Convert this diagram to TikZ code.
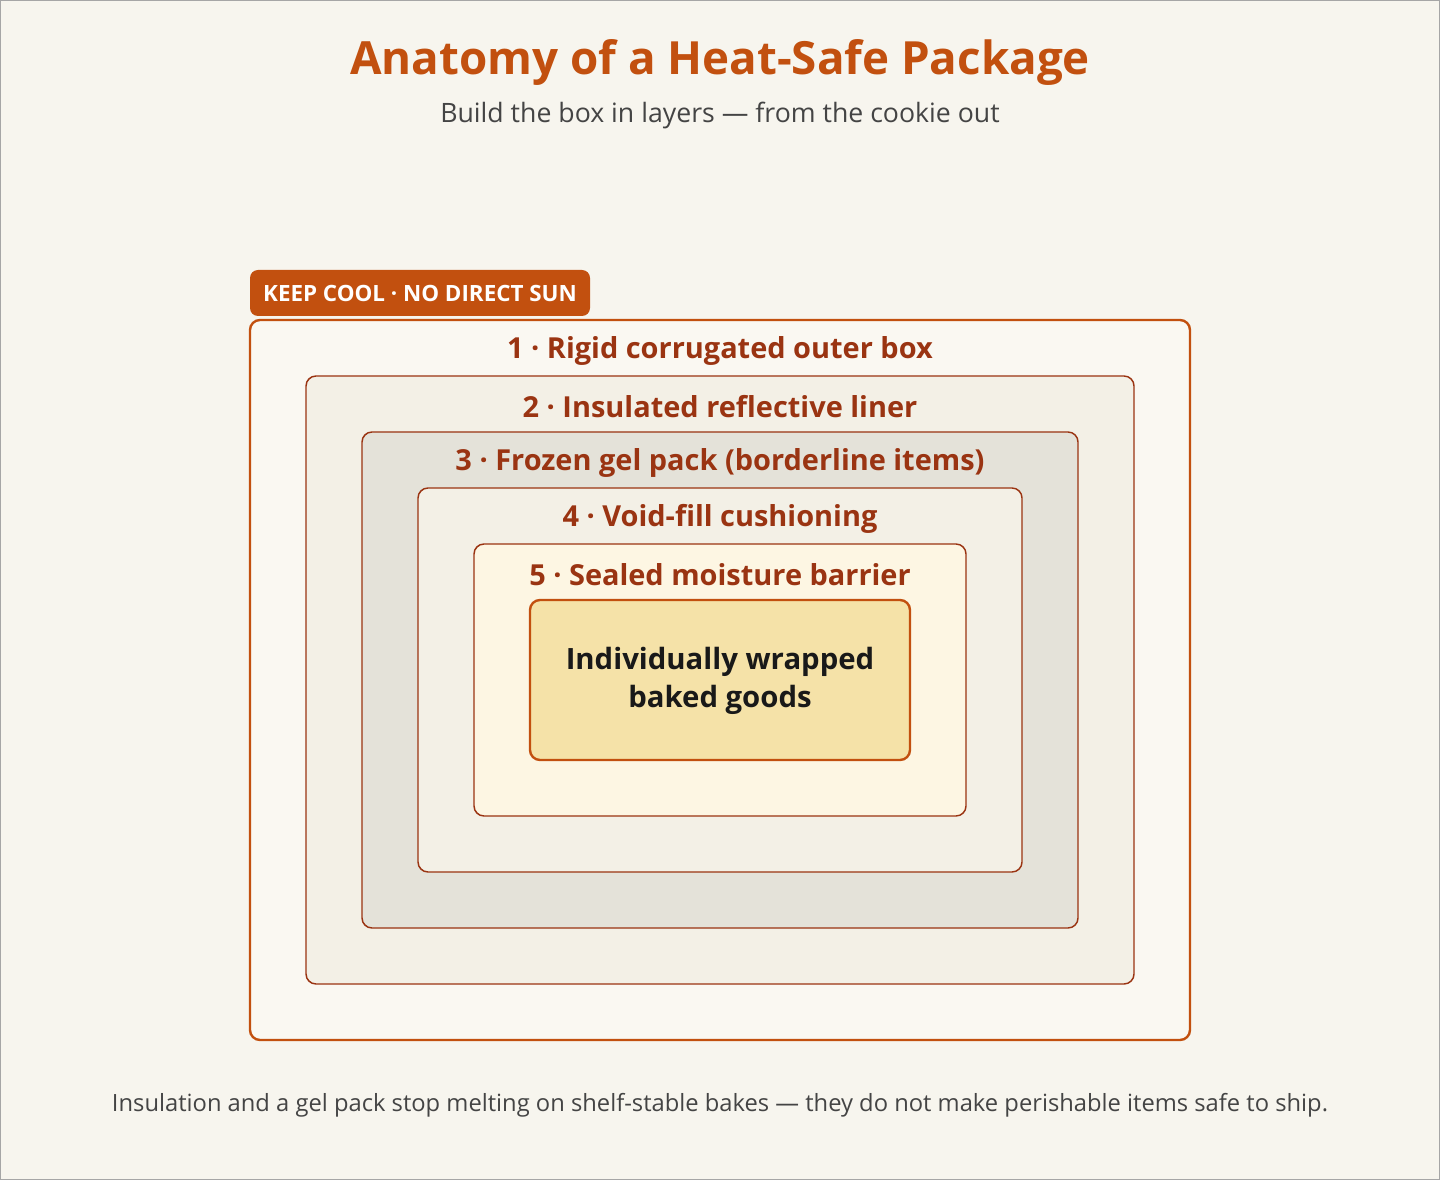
\documentclass[tikz,border=0pt]{standalone}
\usepackage{fontspec}
\setmainfont{Open Sans}
\definecolor{bg}{HTML}{F7F5EE}
\definecolor{orng}{HTML}{C2500F}
\definecolor{dred}{HTML}{9A3412}
\definecolor{fA}{HTML}{FAF8F2}
\definecolor{fB}{HTML}{F3F0E6}
\definecolor{fC}{HTML}{E4E2D9}
\definecolor{fE}{HTML}{FDF6E3}
\definecolor{fF}{HTML}{F5E2A8}
\definecolor{txt}{HTML}{444444}
\begin{document}
\begin{tikzpicture}[x=0.75pt,y=-0.75pt,
  layer/.style={draw=dred,line width=1.1pt,rounded corners=7.5pt},
  lbl/.style={text=dred,font=\bfseries\fontsize{21.7}{26}\selectfont,anchor=center}]
\useasboundingbox (0,0) rectangle (1440,1180);
\fill[bg,draw=gray!70,line width=1.5pt] (0,0) rectangle (1440,1180);
\node (title) at (720,63) {\textcolor{orng}{\bfseries\fontsize{34.3}{40}\selectfont Anatomy of a Heat-Safe Package}};
\node (sub) at (720,116) {\textcolor{txt}{\fontsize{20}{24}\selectfont Build the box in layers — from the cookie out}};
\draw[layer,fill=fA,draw=orng,line width=1.8pt] (250,320) rectangle (1190,1040);
\draw[layer,fill=fB] (306,376) rectangle (1134,984);
\draw[layer,fill=fC] (362,432) rectangle (1078,928);
\draw[layer,fill=fB] (418,488) rectangle (1022,872);
\draw[layer,fill=fE] (474,544) rectangle (966,816);
\draw[layer,fill=fF,draw=orng,line width=1.8pt] (530,600) rectangle (910,760);
\node[lbl] (l1) at (720,351) {1 · Rigid corrugated outer box};
\node[lbl] (l2) at (720,407) {2 · Insulated reflective liner};
\node[lbl] (l3) at (720,463) {3 · Frozen gel pack (borderline items)};
\node[lbl] (l4) at (720,519) {4 · Void-fill cushioning};
\node[lbl] (l5) at (720,575) {5 · Sealed moisture barrier};
\node[align=center,text=black!90,font=\bfseries\fontsize{22}{28.5}\selectfont] (core) at (720,681) {Individually wrapped\\baked goods};
\fill[orng,rounded corners=6pt] (250,270) rectangle (590,316);
\node[text=white,font=\bfseries\fontsize{16.8}{20}\selectfont] (badge) at (420,293) {KEEP COOL · NO DIRECT SUN};
\node (foot) at (720,1105) {\textcolor{txt}{\fontsize{17.8}{20}\selectfont Insulation and a gel pack stop melting on shelf-stable bakes — they do not make perishable items safe to ship.}};
\end{tikzpicture}
\end{document}
